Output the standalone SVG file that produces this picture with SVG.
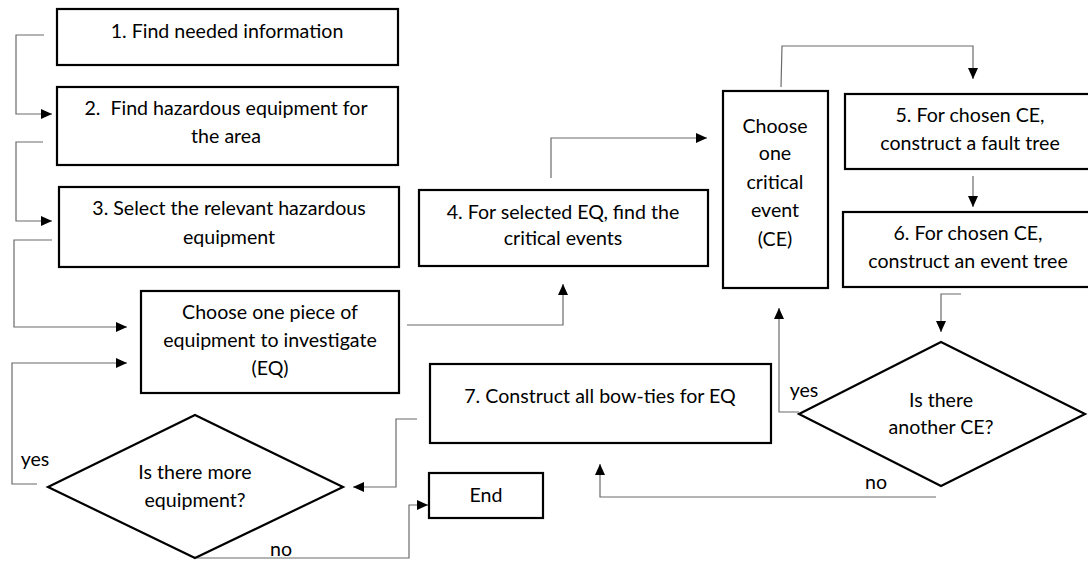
<svg xmlns="http://www.w3.org/2000/svg" width="1088" height="561" viewBox="0 0 1088 561">
  <style>
    .box { fill: #ffffff; stroke: #000000; stroke-width: 2.2; }
    .link { fill: none; stroke: #6b6b6b; stroke-width: 1.2; }
    .lbl { font-family: Lato, "Open Sans", "Liberation Sans", sans-serif; font-size: 19.6px; fill: #000000; text-anchor: middle; white-space: pre; }
  </style>
  <defs>
    <marker id="arrow" markerUnits="userSpaceOnUse" markerWidth="12" markerHeight="11" refX="11" refY="5" orient="auto">
      <path d="M0,0 L11,5 L0,10 z" fill="#000000"/>
    </marker>
  </defs>
  <rect width="1088" height="561" fill="#ffffff"/>

  <g id="connectors">
    <path class="link" d="M44,35 H16 V114 H52" marker-end="url(#arrow)"/>
    <path class="link" d="M43,142 H16 V221 H52" marker-end="url(#arrow)"/>
    <path class="link" d="M52,240 H14 V327 H127" marker-end="url(#arrow)"/>
    <path class="link" d="M37,484 H12 V363 H127" marker-end="url(#arrow)"/>
    <path class="link" d="M407,325 H563 V284" marker-end="url(#arrow)"/>
    <path class="link" d="M551,178 V138 H707" marker-end="url(#arrow)"/>
    <path class="link" d="M781,87 L782,46 H973 V79" marker-end="url(#arrow)"/>
    <path class="link" d="M973,176 V207" marker-end="url(#arrow)"/>
    <path class="link" d="M961,294 H941 V332" marker-end="url(#arrow)"/>
    <path class="link" d="M799,412 H779 V308" marker-end="url(#arrow)"/>
    <path class="link" d="M936,497 H600 V464" marker-end="url(#arrow)"/>
    <path class="link" d="M417,419 H396 V487 H353" marker-end="url(#arrow)"/>
    <path class="link" d="M197,558 H409 V505 H428" marker-end="url(#arrow)"/>
    <text class="lbl" x="35" y="466">yes</text>
    <text class="lbl" x="281" y="556">no</text>
    <text class="lbl" x="804" y="397">yes</text>
    <text class="lbl" x="876" y="489">no</text>
  </g>

  <g id="step1">
    <rect class="box" x="57" y="9" width="341" height="56"/>
    <text class="lbl" x="227" y="38">1. Find needed information</text>
  </g>
  <g id="step2">
    <rect class="box" x="57" y="87" width="341" height="78"/>
    <text class="lbl" x="226" y="115">2.  Find hazardous equipment for</text>
    <text class="lbl" x="226" y="143">the area</text>
  </g>
  <g id="step3">
    <rect class="box" x="59" y="187" width="340" height="80"/>
    <text class="lbl" x="229" y="215">3. Select the relevant hazardous</text>
    <text class="lbl" x="229" y="244">equipment</text>
  </g>
  <g id="choose-eq">
    <rect class="box" x="141" y="291" width="258" height="102"/>
    <text class="lbl" x="270" y="319">Choose one piece of</text>
    <text class="lbl" x="270" y="347">equipment to investigate</text>
    <text class="lbl" x="270" y="375">(EQ)</text>
  </g>
  <g id="step4">
    <rect class="box" x="419" y="190" width="289" height="76"/>
    <text class="lbl" x="563" y="219">4. For selected EQ, find the</text>
    <text class="lbl" x="563" y="245">critical events</text>
  </g>
  <g id="choose-ce">
    <rect class="box" x="723" y="91" width="105" height="197"/>
    <text class="lbl" x="775" y="133">Choose</text>
    <text class="lbl" x="775" y="160">one</text>
    <text class="lbl" x="775" y="189">critical</text>
    <text class="lbl" x="775" y="217">event</text>
    <text class="lbl" x="775" y="246">(CE)</text>
  </g>
  <g id="step5">
    <rect class="box" x="845" y="94" width="251" height="75"/>
    <text class="lbl" x="970" y="122">5. For chosen CE,</text>
    <text class="lbl" x="970" y="150">construct a fault tree</text>
  </g>
  <g id="step6">
    <rect class="box" x="843" y="212" width="253" height="75"/>
    <text class="lbl" x="968" y="240">6. For chosen CE,</text>
    <text class="lbl" x="968" y="268">construct an event tree</text>
  </g>
  <g id="another-ce">
    <polygon class="box" points="799,414 941,342 1085,414 941,486"/>
    <text class="lbl" x="941" y="407">Is there</text>
    <text class="lbl" x="941" y="434">another CE?</text>
  </g>
  <g id="step7">
    <rect class="box" x="430" y="364" width="341" height="79"/>
    <text class="lbl" x="600" y="403">7. Construct all bow-ties for EQ</text>
  </g>
  <g id="more-eq">
    <polygon class="box" points="48,487 195,415 343,487 195,558"/>
    <text class="lbl" x="195" y="479">Is there more</text>
    <text class="lbl" x="195" y="507">equipment?</text>
  </g>
  <g id="end">
    <rect class="box" x="429" y="473" width="114" height="45"/>
    <text class="lbl" x="486" y="502">End</text>
  </g>
</svg>
